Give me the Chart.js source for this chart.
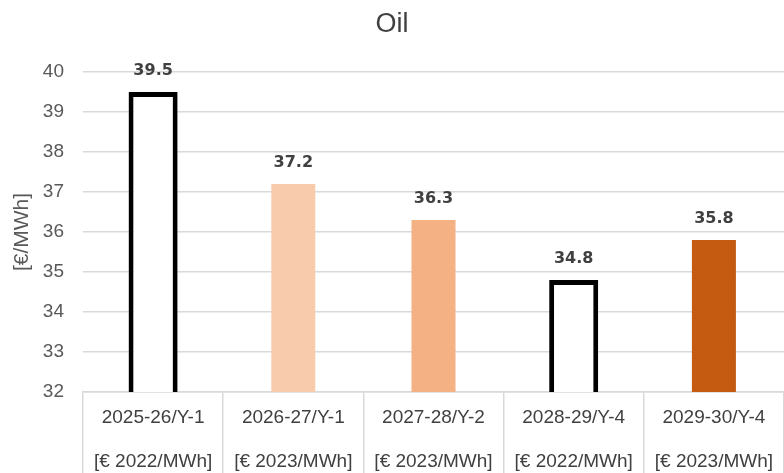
<!DOCTYPE html>
<html>
<head>
<meta charset="utf-8">
<script src="https://cdn.jsdelivr.net/npm/chart.js@4"></script>
<style>
  html, body { margin: 0; padding: 0; background: #fff; }
  #wrap { width: 784px; height: 473px; }
</style>
</head>
<body>
<div id="wrap"><canvas id="oilChart" width="784" height="473"></canvas></div>
<script>
// Dados
const periods = ['2025-26/Y-1', '2026-27/Y-1', '2027-28/Y-2', '2028-29/Y-4', '2029-30/Y-4'];
const units = ['[€ 2022/MWh]', '[€ 2023/MWh]', '[€ 2023/MWh]', '[€ 2022/MWh]', '[€ 2023/MWh]'];
const priceYear = [2022, 2023, 2023, 2022, 2023];
const prices = [39.5, 37.2, 36.3, 34.8, 35.8];
const yTicks = [32, 33, 34, 35, 36, 37, 38, 39, 40];

// cores das barras em € 2023
const fills2023 = ['#ffffff', '#F8CBAD', '#F4B183', '#ffffff', '#C55A11'];

// separa as barras por ano-base do preço
const values2022 = prices.map((v, i) => priceYear[i] === 2022 ? v : null);
const values2023 = prices.map((v, i) => priceYear[i] === 2023 ? v : null);

// rótulos de valor acima das barras
const valueLabels = {
    id: 'valueLabels',
    afterDatasetsDraw(chart) {
        const c = chart.ctx;
        c.save();
        c.font = 'bold 16px "DejaVu Sans"';
        c.fillStyle = '#404040';
        c.textAlign = 'center';
        c.textBaseline = 'middle';
        chart.data.datasets.forEach((ds, di) => {
            chart.getDatasetMeta(di).data.forEach((bar, i) => {
                if (ds.data[i] == null) return;
                c.fillText(ds.data[i].toFixed(1), bar.x, bar.y - 21);
            });
        });
        c.restore();
    }
};

const ctx = document.getElementById('oilChart').getContext('2d');
new Chart(ctx, {
    type: 'bar',
    data: {
        labels: periods.map((p, i) => [p, units[i]]),
        datasets: [
            {
                label: '€ 2022',
                data: values2022,
                backgroundColor: '#ffffff',
                borderColor: '#000000',
                borderWidth: 5,
                borderSkipped: false,
                grouped: false,
                barPercentage: 0.35,
                categoryPercentage: 1
            },
            {
                label: '€ 2023',
                data: values2023,
                backgroundColor: fills2023,
                borderWidth: 0,
                grouped: false,
                barPercentage: 0.314,
                categoryPercentage: 1
            }
        ]
    },
    options: {
        responsive: false,
        animation: false,
        layout: { padding: 0 },
        plugins: {
            legend: { display: false },
            tooltip: { enabled: false },
            title: {
                display: true,
                text: 'Oil',
                color: '#404040',
                font: { family: 'Liberation Sans', size: 27, weight: 'normal' },
                padding: { top: 8, bottom: 31.6 }
            }
        },
        scales: {
            x: {
                offset: true,
                grid: {
                    offset: true,
                    drawOnChartArea: false,
                    drawTicks: true,
                    tickLength: 81,
                    color: '#d9d9d9',
                    lineWidth: 1.5
                },
                border: { display: true, color: '#d9d9d9', width: 1.5 },
                ticks: {
                    color: '#404040',
                    font: { family: 'Liberation Sans', size: 19, lineHeight: 2.3 },
                    padding: -77,
                    maxRotation: 0,
                    autoSkip: false
                },
                afterFit(scale) { scale.height = 81; }
            },
            y: {
                min: 32,
                max: 40,
                afterBuildTicks(scale) { scale.ticks = yTicks.map(v => ({ value: v })); },
                grid: { color: '#d9d9d9', drawTicks: false, lineWidth: 1.5 },
                border: { display: false },
                ticks: {
                    color: '#595959',
                    font: { family: 'Liberation Sans', size: 19 },
                    padding: 19
                },
                title: {
                    display: true,
                    text: '[€/MWh]',
                    color: '#595959',
                    font: { family: 'Liberation Sans', size: 21 },
                    padding: { top: 9.4, bottom: 0 }
                },
                afterFit(scale) { scale.width = 83; }
            }
        }
    },
    plugins: [valueLabels]
});
</script>
</body>
</html>
